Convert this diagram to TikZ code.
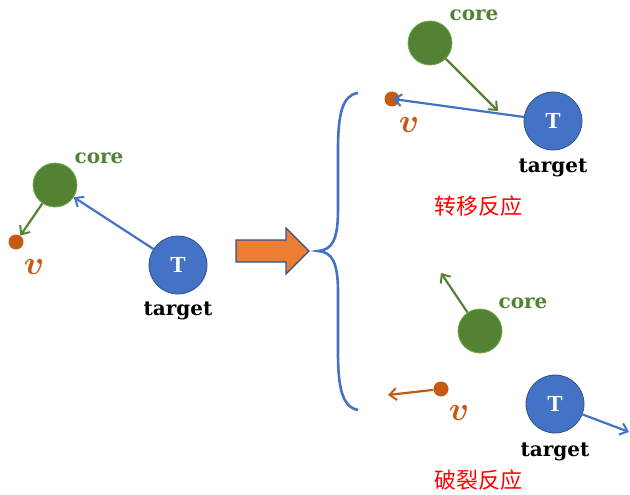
\documentclass[tikz,border=0pt]{standalone}
\usepackage{bm}
\usepackage{fontspec}
\setmainfont{DejaVu Serif}
\newfontfamily\cjkfont{Noto Sans CJK SC}
\newfontfamily\tfont{Liberation Serif}
\usetikzlibrary{arrows.meta}
\definecolor{cgreen}{HTML}{548235}
\definecolor{cgreenb}{HTML}{70AD47}
\definecolor{cblue}{HTML}{4472C4}
\definecolor{cblueb}{HTML}{2F528F}
\definecolor{corange}{HTML}{C55A11}
\definecolor{carrow}{HTML}{ED7D31}
\newcommand{\vsym}{\scalebox{1.35}{\ensuremath{\bm{v}}}}
\tikzset{
  corec/.style={circle, fill=cgreen, draw=cgreenb, line width=0.8pt, minimum size=44pt, inner sep=0pt},
  tgtc/.style={circle, fill=cblue, draw=cblueb, line width=0.8pt, minimum size=58pt, inner sep=0pt,
    text=white, font=\tfont\bfseries\fontsize{23}{23}\selectfont},
  vdot/.style={circle, fill=corange, draw=none, minimum size=15pt, inner sep=0pt},
  corelab/.style={text=cgreen, font=\bfseries\fontsize{20}{20}\selectfont, inner sep=0pt},
  tgtlab/.style={text=black, font=\bfseries\fontsize{20}{20}\selectfont, inner sep=0pt},
  vlab/.style={text=corange, font=\fontsize{24.88}{25}\selectfont, inner sep=0pt},
  cnlab/.style={text=red, font=\cjkfont\fontsize{22}{22}\selectfont, inner sep=0pt},
  arr/.style={line width=2.2pt, -{Straight Barb[length=7pt,width=12pt,line width=2pt]}},
}
\begin{document}
\begin{tikzpicture}[x=1pt,y=-1pt]
\useasboundingbox (0,0) rectangle (630,495);
% left group
\node[corec] (core1) at (55,185) {};
\node[corelab] (corel1) at (99,158) {core};
\node[vdot] (v1) at (16,242) {};
\node[vlab] (vl1) at (34,267) {\vsym};
\node[tgtc] (tgt1) at (178,265) {T};
\node[tgtlab] (tl1) at (178,311) {target};
\draw[arr, cblue] (tgt1) -- (core1);
\draw[arr, cgreen] (core1) -- (v1);
% big arrow
\draw[fill=carrow, draw=cblueb, line width=1.4pt]
  (236,240) -- (286,240) -- (286,228) -- (309,251) -- (286,274) -- (286,262) -- (236,262) -- cycle;
% brace
\coordinate (btop) at (358,93);
\coordinate (btip) at (318,251);
\coordinate (bbot) at (358,410);
\draw[cblue, line width=2.6pt]
  (btop) .. controls (342,95) and (338,115) .. (338,150)
  -- (338,210) .. controls (338,240) and (332,250) .. (btip)
  .. controls (332,252) and (338,262) .. (338,292)
  -- (338,352) .. controls (338,387) and (342,407) .. (bbot);
% top-right group
\node[corec] (core2) at (430,43) {};
\node[corelab] (corel2) at (474,15) {core};
\node[vdot] (v2) at (392,99) {};
\node[vlab] (vl2) at (409,125) {\vsym};
\node[tgtc] (tgt2) at (553,121) {T};
\node[tgtlab] (tl2) at (553,168) {target};
\node[cnlab] (cn1) at (478,206) {转移反应};
\coordinate (g2end) at (498,111);
\draw[arr, cgreen] (core2) -- (g2end);
\draw[arr, cblue] (tgt2) -- ([xshift=1pt]v2.center);
% bottom-right group
\node[corec] (core3) at (480,331) {};
\node[corelab] (corel3) at (523,303) {core};
\node[vdot] (v3) at (441,389) {};
\node[vlab] (vl3) at (459,413) {\vsym};
\node[tgtc] (tgt3) at (555,404) {T};
\node[tgtlab] (tl3) at (555,452) {target};
\node[cnlab] (cn2) at (478,480) {破裂反应};
\coordinate (g3end) at (441,273);
\coordinate (o3end) at (388,395);
\coordinate (b3end) at (629,432);
\draw[arr, cgreen] (core3) -- (g3end);
\draw[arr, corange] (v3) -- (o3end);
\draw[arr, cblue] (tgt3) -- (b3end);
\end{tikzpicture}
\end{document}
